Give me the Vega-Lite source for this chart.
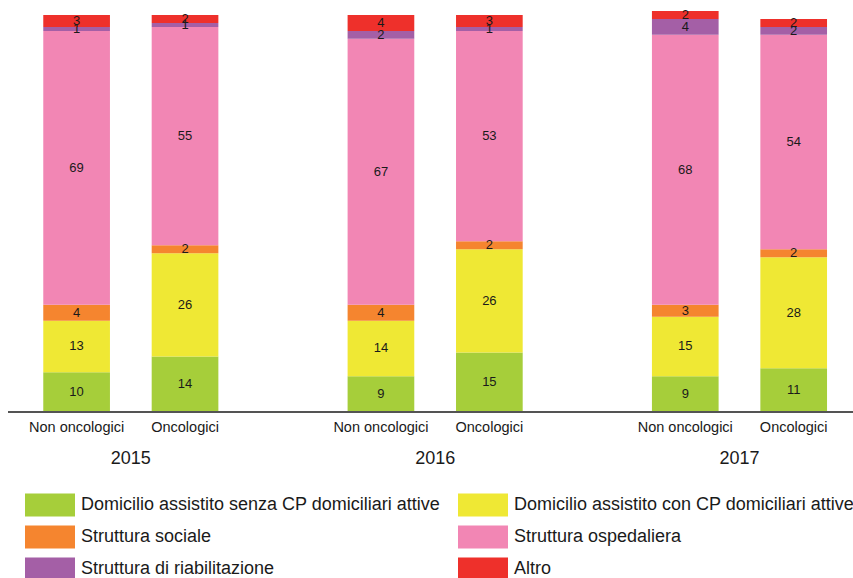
{
  "$schema": "https://vega.github.io/schema/vega-lite/v6.json",
  "width": 854,
  "height": 397,
  "autosize": {"type": "none"},
  "padding": {"left": 8, "top": 15, "right": 0, "bottom": 166},
  "background": "white",
  "config": {
    "font": "Liberation Sans",
    "view": {"stroke": null},
    "text": {"font": "Liberation Sans"}
  },
  "data": {
    "values": [
      {"year": "2015", "type": "Non oncologici", "cat": "Domicilio assistito senza CP domiciliari attive", "value": 10},
      {"year": "2015", "type": "Non oncologici", "cat": "Domicilio assistito con CP domiciliari attive", "value": 13},
      {"year": "2015", "type": "Non oncologici", "cat": "Struttura sociale", "value": 4},
      {"year": "2015", "type": "Non oncologici", "cat": "Struttura ospedaliera", "value": 69},
      {"year": "2015", "type": "Non oncologici", "cat": "Struttura di riabilitazione", "value": 1},
      {"year": "2015", "type": "Non oncologici", "cat": "Altro", "value": 3},
      {"year": "2015", "type": "Oncologici", "cat": "Domicilio assistito senza CP domiciliari attive", "value": 14},
      {"year": "2015", "type": "Oncologici", "cat": "Domicilio assistito con CP domiciliari attive", "value": 26},
      {"year": "2015", "type": "Oncologici", "cat": "Struttura sociale", "value": 2},
      {"year": "2015", "type": "Oncologici", "cat": "Struttura ospedaliera", "value": 55},
      {"year": "2015", "type": "Oncologici", "cat": "Struttura di riabilitazione", "value": 1},
      {"year": "2015", "type": "Oncologici", "cat": "Altro", "value": 2},
      {"year": "2016", "type": "Non oncologici", "cat": "Domicilio assistito senza CP domiciliari attive", "value": 9},
      {"year": "2016", "type": "Non oncologici", "cat": "Domicilio assistito con CP domiciliari attive", "value": 14},
      {"year": "2016", "type": "Non oncologici", "cat": "Struttura sociale", "value": 4},
      {"year": "2016", "type": "Non oncologici", "cat": "Struttura ospedaliera", "value": 67},
      {"year": "2016", "type": "Non oncologici", "cat": "Struttura di riabilitazione", "value": 2},
      {"year": "2016", "type": "Non oncologici", "cat": "Altro", "value": 4},
      {"year": "2016", "type": "Oncologici", "cat": "Domicilio assistito senza CP domiciliari attive", "value": 15},
      {"year": "2016", "type": "Oncologici", "cat": "Domicilio assistito con CP domiciliari attive", "value": 26},
      {"year": "2016", "type": "Oncologici", "cat": "Struttura sociale", "value": 2},
      {"year": "2016", "type": "Oncologici", "cat": "Struttura ospedaliera", "value": 53},
      {"year": "2016", "type": "Oncologici", "cat": "Struttura di riabilitazione", "value": 1},
      {"year": "2016", "type": "Oncologici", "cat": "Altro", "value": 3},
      {"year": "2017", "type": "Non oncologici", "cat": "Domicilio assistito senza CP domiciliari attive", "value": 9},
      {"year": "2017", "type": "Non oncologici", "cat": "Domicilio assistito con CP domiciliari attive", "value": 15},
      {"year": "2017", "type": "Non oncologici", "cat": "Struttura sociale", "value": 3},
      {"year": "2017", "type": "Non oncologici", "cat": "Struttura ospedaliera", "value": 68},
      {"year": "2017", "type": "Non oncologici", "cat": "Struttura di riabilitazione", "value": 4},
      {"year": "2017", "type": "Non oncologici", "cat": "Altro", "value": 2},
      {"year": "2017", "type": "Oncologici", "cat": "Domicilio assistito senza CP domiciliari attive", "value": 11},
      {"year": "2017", "type": "Oncologici", "cat": "Domicilio assistito con CP domiciliari attive", "value": 28},
      {"year": "2017", "type": "Oncologici", "cat": "Struttura sociale", "value": 2},
      {"year": "2017", "type": "Oncologici", "cat": "Struttura ospedaliera", "value": 54},
      {"year": "2017", "type": "Oncologici", "cat": "Struttura di riabilitazione", "value": 2},
      {"year": "2017", "type": "Oncologici", "cat": "Altro", "value": 2}
    ]
  },
  "transform": [
    {"calculate": "indexof(['Domicilio assistito senza CP domiciliari attive','Domicilio assistito con CP domiciliari attive','Struttura sociale','Struttura ospedaliera','Struttura di riabilitazione','Altro'], datum.cat)", "as": "k"},
    {"stack": "value", "groupby": ["year", "type"], "sort": [{"field": "k", "order": "ascending"}], "as": ["v0", "v1"]},
    {"calculate": "(datum.v0 + datum.v1) / 2", "as": "mid"}
  ],
  "layer": [
    {
      "mark": {"type": "bar", "strokeWidth": 0},
      "encoding": {
        "x": {
          "field": "year",
          "type": "nominal",
          "scale": {"range": [-29.35, 883.65], "paddingInner": 0, "paddingOuter": 0},
          "axis": {
            "title": null,
            "ticks": false,
            "tickSize": 0,
            "domain": false,
            "labelPadding": 37,
            "labelFontSize": 18,
            "labelColor": "#1a1a1a",
            "labelAngle": 0
          }
        },
        "xOffset": {
          "field": "type",
          "type": "nominal",
          "sort": ["Non oncologici", "Oncologici"],
          "scale": {"paddingInner": 0.385, "paddingOuter": 0.596}
        },
        "y": {"field": "v1", "type": "quantitative", "scale": {"domain": [0, 100], "nice": false, "zero": true}, "axis": null},
        "y2": {"field": "v0"},
        "color": {
          "field": "cat",
          "type": "nominal",
          "scale": {
            "domain": ["Domicilio assistito senza CP domiciliari attive", "Domicilio assistito con CP domiciliari attive", "Struttura sociale", "Struttura ospedaliera", "Struttura di riabilitazione", "Altro"],
            "range": ["#a6ce3a", "#efe834", "#f5852f", "#f286b4", "#a45fa6", "#ee302b"]
          },
          "legend": {
            "title": null,
            "orient": "none",
            "legendX": 29.5,
            "legendY": 477.5,
            "columns": 2,
            "direction": "horizontal",
            "padding": 0,
            "symbolType": "M-2,-0.92H2V0.92H-2Z",
            "symbolSize": 625,
            "symbolStrokeWidth": 0,
            "symbolOpacity": 1,
            "labelFontSize": 18,
            "labelColor": "#1a1a1a",
            "labelLimit": 0,
            "labelOffset": 18.5,
            "rowPadding": 8,
            "columnPadding": 17
          }
        }
      }
    },
    {
      "mark": {"type": "rule", "color": "#555555", "strokeWidth": 1.5},
      "encoding": {
        "y": {"datum": 0, "type": "quantitative"}
      }
    },
    {
      "mark": {"type": "text", "fontSize": 13, "color": "#1a1a1a", "baseline": "middle"},
      "encoding": {
        "x": {"field": "year", "type": "nominal"},
        "xOffset": {"field": "type", "type": "nominal", "sort": ["Non oncologici", "Oncologici"]},
        "y": {"field": "mid", "type": "quantitative"},
        "text": {"field": "value", "type": "quantitative"}
      }
    },
    {
      "transform": [{"filter": "datum.k === 0"}],
      "mark": {"type": "text", "fontSize": 14.5, "color": "#1a1a1a", "baseline": "middle", "dy": 16},
      "encoding": {
        "x": {"field": "year", "type": "nominal"},
        "xOffset": {"field": "type", "type": "nominal", "sort": ["Non oncologici", "Oncologici"]},
        "y": {"datum": 0, "type": "quantitative"},
        "text": {"field": "type", "type": "nominal"}
      }
    }
  ]
}
